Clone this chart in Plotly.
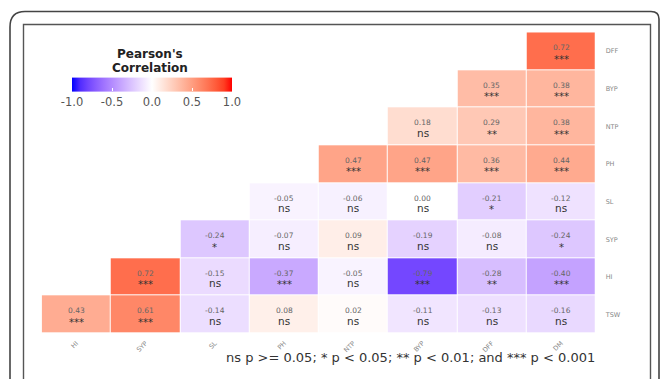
import plotly.graph_objects as go

# Correlation matrix (lower triangle), rows listed top to bottom
col_vars = ["HI", "SYP", "SL", "PH", "NTP", "BYP", "DFF", "DM"]
row_vars = ["DFF", "BYP", "NTP", "PH", "SL", "SYP", "HI", "TSW"]

r_DFF = [None, None, None, None, None, None, None, 0.72]
r_BYP = [None, None, None, None, None, None, 0.35, 0.38]
r_NTP = [None, None, None, None, None, 0.18, 0.29, 0.38]
r_PH = [None, None, None, None, 0.47, 0.47, 0.36, 0.44]
r_SL = [None, None, None, -0.05, -0.06, 0.00, -0.21, -0.12]
r_SYP = [None, None, -0.24, -0.07, 0.09, -0.19, -0.08, -0.24]
r_HI = [None, 0.72, -0.15, -0.37, -0.05, -0.79, -0.28, -0.40]
r_TSW = [0.43, 0.61, -0.14, 0.08, 0.02, -0.11, -0.13, -0.16]

s_DFF = [None, None, None, None, None, None, None, "***"]
s_BYP = [None, None, None, None, None, None, "***", "***"]
s_NTP = [None, None, None, None, None, "ns", "**", "***"]
s_PH = [None, None, None, None, "***", "***", "***", "***"]
s_SL = [None, None, None, "ns", "ns", "ns", "*", "ns"]
s_SYP = [None, None, "*", "ns", "ns", "ns", "ns", "*"]
s_HI = [None, "***", "ns", "***", "ns", "***", "**", "***"]
s_TSW = ["***", "***", "ns", "ns", "ns", "ns", "ns", "ns"]

corr = [r_DFF, r_BYP, r_NTP, r_PH, r_SL, r_SYP, r_HI, r_TSW]
sig = [s_DFF, s_BYP, s_NTP, s_PH, s_SL, s_SYP, s_HI, s_TSW]

cbar_ticks = [-1.0, -0.5, 0.0, 0.5, 1.0]
legend_title = ["Pearson's", "Correlation"]
caption = "ns p >= 0.05; * p < 0.05; ** p < 0.01; and *** p < 0.001"

W, H = 660, 379


# ---- diverging blue-white-red scale interpolated in CIE Lab ----
def _srgb_to_lin(c):
    c = c / 255.0
    return c / 12.92 if c <= 0.04045 else ((c + 0.055) / 1.055) ** 2.4


def _lin_to_srgb(c):
    c = max(0.0, min(1.0, c))
    v = 12.92 * c if c <= 0.0031308 else 1.055 * c ** (1 / 2.4) - 0.055
    return int(round(v * 255))


def rgb_to_lab(rgb):
    r, g, b = (_srgb_to_lin(v) for v in rgb)
    x = (0.4124 * r + 0.3576 * g + 0.1805 * b) / 0.95047
    y = (0.2126 * r + 0.7152 * g + 0.0722 * b) / 1.0
    z = (0.0193 * r + 0.1192 * g + 0.9505 * b) / 1.08883

    def f(t):
        return t ** (1 / 3) if t > 0.008856 else 7.787 * t + 16 / 116

    fx, fy, fz = f(x), f(y), f(z)
    return (116 * fy - 16, 500 * (fx - fy), 200 * (fy - fz))


def lab_to_rgb(lab):
    L, a, b = lab
    fy = (L + 16) / 116
    fx = fy + a / 500
    fz = fy - b / 200

    def finv(t):
        return t ** 3 if t ** 3 > 0.008856 else (t - 16 / 116) / 7.787

    x, y, z = finv(fx) * 0.95047, finv(fy), finv(fz) * 1.08883
    r = 3.2406 * x - 1.5372 * y - 0.4986 * z
    g = -0.9689 * x + 1.8758 * y + 0.0415 * z
    bb = 0.0557 * x - 0.2040 * y + 1.0570 * z
    return tuple(_lin_to_srgb(v) for v in (r, g, bb))


low, mid, high = rgb_to_lab((0, 0, 255)), rgb_to_lab((255, 255, 255)), rgb_to_lab((255, 0, 0))
colorscale = []
n = 20
for i in range(n + 1):
    t = i / n
    if t <= 0.5:
        u = t / 0.5
        lab = tuple(low[k] + (mid[k] - low[k]) * u for k in range(3))
    else:
        u = (t - 0.5) / 0.5
        lab = tuple(mid[k] + (high[k] - mid[k]) * u for k in range(3))
    colorscale.append([t, "rgb(%d,%d,%d)" % lab_to_rgb(lab)])


def px(x):
    return x / W


def py(y):
    return 1 - y / H


FONT = "DejaVu Sans"

fig = go.Figure()
fig.add_trace(
    go.Heatmap(
        z=corr,
        x=col_vars,
        y=row_vars,
        zmin=-1,
        zmax=1,
        colorscale=colorscale,
        xgap=1,
        ygap=1,
        hoverongaps=False,
        colorbar=dict(
            orientation="h",
            x=px(152),
            y=py(95),
            xanchor="center",
            yanchor="middle",
            xpad=0,
            ypad=0,
            lenmode="pixels",
            len=160,
            thicknessmode="pixels",
            thickness=14,
            outlinewidth=0,
            tickvals=cbar_ticks,
            ticktext=["%.1f" % v for v in cbar_ticks],
            ticks="inside",
            ticklen=3,
            tickcolor="white",
            tickwidth=1,
            tickfont=dict(family=FONT, size=11.5, color="#555555"),
        ),
    )
)

# Cell labels: coefficient above, significance code below
annotations = []
for i, row in enumerate(corr):
    for j, v in enumerate(row):
        if v is None:
            continue
        annotations.append(
            dict(
                x=col_vars[j], y=row_vars[i], xref="x", yref="y",
                text="%.2f" % v, showarrow=False, yshift=3.5,
                font=dict(family=FONT, size=7.5, color="#666666"),
            )
        )
        code = sig[i][j]
        if code == "ns":
            annotations.append(
                dict(
                    x=col_vars[j], y=row_vars[i], xref="x", yref="y",
                    text=code, showarrow=False, yshift=-6.5,
                    font=dict(family=FONT, size=10.5, color="#333333"),
                )
            )
        else:
            annotations.append(
                dict(
                    x=col_vars[j], y=row_vars[i], xref="x", yref="y",
                    text=code, showarrow=False, yshift=-8,
                    font=dict(family=FONT, size=10, color="#333333"),
                )
            )

# Legend title, one annotation per line
for k, line in enumerate(legend_title):
    annotations.append(
        dict(
            x=px(150), y=py(53.5 + 14.5 * k), xref="paper", yref="paper",
            xanchor="center", yanchor="middle",
            text="<b>%s</b>" % line, showarrow=False,
            font=dict(family=FONT, size=12, color="#222222"),
        )
    )
# Significance caption
annotations.append(
    dict(
        x=px(410), y=py(357), xref="paper", yref="paper",
        xanchor="center", yanchor="middle",
        text=caption, showarrow=False,
        font=dict(family=FONT, size=13, color="#333333"),
    )
)

# Card frame and inner panel border
outer = "M {x0},{yb} L {x0},{y1} Q {x0},{yt} {x2},{yt} L {x3},{yt} Q {x4},{yt} {x4},{y5} L {x4},{yb}".format(
    x0=px(10), yb=py(385), y1=py(27), yt=py(11.5), x2=px(25), x3=px(651), x4=px(659), y5=py(19)
)
shapes = [
    dict(type="path", xref="paper", yref="paper", path=outer,
         line=dict(color="#444444", width=1.6)),
    dict(type="rect", xref="paper", yref="paper",
         x0=px(23.5), x1=px(650.5), y0=py(385), y1=py(24.5),
         line=dict(color="#555555", width=1.4)),
]

fig.update_layout(
    width=W,
    height=H,
    margin=dict(l=0, r=0, t=0, b=0),
    paper_bgcolor="white",
    plot_bgcolor="white",
    annotations=annotations,
    shapes=shapes,
    xaxis=dict(
        domain=[px(41.7), px(595.7)],
        type="category",
        categoryorder="array",
        categoryarray=col_vars,
        showgrid=False, zeroline=False, showline=False, ticks="",
        tickangle=-45,
        ticklabelstandoff=4,
        tickfont=dict(family=FONT, size=6.5, color="#888888"),
    ),
    yaxis=dict(
        domain=[py(333.3), py(32.3)],
        type="category",
        categoryorder="array",
        categoryarray=row_vars[::-1],
        side="right",
        showgrid=False, zeroline=False, showline=False, ticks="",
        ticklabelstandoff=9,
        tickfont=dict(family=FONT, size=6.5, color="#888888"),
    ),
)

fig.write_html("out.html")
